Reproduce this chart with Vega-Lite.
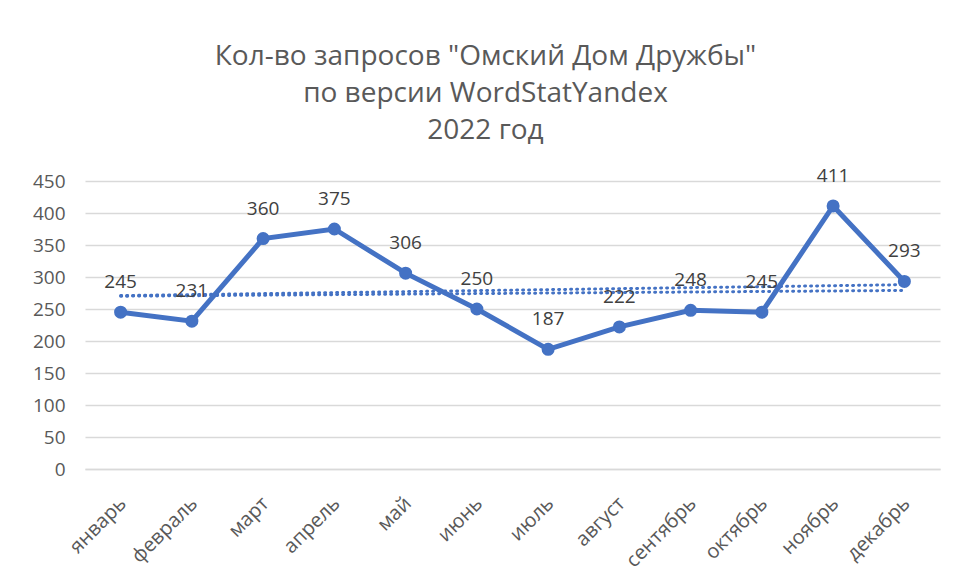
{
  "$schema": "https://vega.github.io/schema/vega-lite/v6.json",
  "width": 855,
  "height": 288,
  "autosize": {"type": "none"},
  "padding": {"left": 85, "top": 181, "right": 17, "bottom": 114},
  "background": "white",
  "config": {"view": {"stroke": null}, "font": "Open Sans"},
  "title": {
    "text": ["Кол-во запросов \"Омский Дом Дружбы\"", "по версии WordStatYandex", "2022 год"],
    "font": "Open Sans",
    "fontSize": 28,
    "fontWeight": "normal",
    "color": "#595959",
    "lineHeight": 37,
    "anchor": "middle",
    "dx": -27,
    "offset": 22
  },
  "datasets": {
    "main": [
      {"month": "январь", "value": 245},
      {"month": "февраль", "value": 231},
      {"month": "март", "value": 360},
      {"month": "апрель", "value": 375},
      {"month": "май", "value": 306},
      {"month": "июнь", "value": 250},
      {"month": "июль", "value": 187},
      {"month": "август", "value": 222},
      {"month": "сентябрь", "value": 248},
      {"month": "октябрь", "value": 245},
      {"month": "ноябрь", "value": 411},
      {"month": "декабрь", "value": 293}
    ],
    "trend": [
      {"series": "linear", "month": "январь", "value": 271},
      {"series": "linear", "month": "декабрь", "value": 288},
      {"series": "second", "month": "январь", "value": 270},
      {"series": "second", "month": "декабрь", "value": 279}
    ]
  },
  "encoding": {
    "x": {
      "field": "month",
      "type": "ordinal",
      "sort": ["январь", "февраль", "март", "апрель", "май", "июнь", "июль", "август", "сентябрь", "октябрь", "ноябрь", "декабрь"],
      "title": null,
      "axis": {
        "labelAngle": -45,
        "labelAlign": "right",
        "labelBaseline": "top",
        "labelFontSize": 20,
        "labelColor": "#595959",
        "labelPadding": 24,
        "labelOffset": -5,
        "ticks": false,
        "domain": true,
        "domainColor": "#d9d9d9",
        "domainWidth": 1.5,
        "grid": false
      }
    },
    "y": {
      "field": "value",
      "type": "quantitative",
      "title": null,
      "scale": {"domain": [0, 450], "nice": false},
      "axis": {
        "values": [0, 50, 100, 150, 200, 250, 300, 350, 400, 450],
        "labelFontSize": 19,
        "labelColor": "#595959",
        "labelPadding": 20,
        "ticks": false,
        "domain": false,
        "gridColor": "#d9d9d9",
        "gridWidth": 1.5
      }
    }
  },
  "layer": [
    {
      "data": {"name": "trend"},
      "mark": {"type": "line", "color": "#4472C4", "strokeWidth": 3, "strokeDash": [1, 5], "strokeCap": "round"},
      "encoding": {"detail": {"field": "series"}}
    },
    {
      "data": {"name": "main"},
      "mark": {"type": "line", "color": "#4472C4", "strokeWidth": 5, "point": {"size": 170, "filled": true, "color": "#4472C4", "opacity": 1}}
    },
    {
      "data": {"name": "main"},
      "mark": {"type": "text", "dy": -30, "fontSize": 19, "color": "#404040", "baseline": "middle"},
      "encoding": {"text": {"field": "value", "type": "quantitative"}}
    }
  ]
}
